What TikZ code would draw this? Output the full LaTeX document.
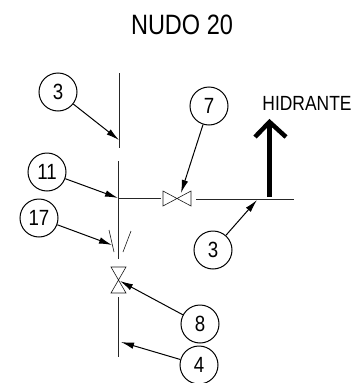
\documentclass[tikz,border=0pt]{standalone}
\usepackage{fontspec}
\setmainfont{Liberation Sans}
\usetikzlibrary{arrows.meta}
\tikzset{
  x=1pt,y=-1pt,
  pipe/.style={line width=1pt,draw=black!85},
  valve/.style={line width=.6pt,draw=black!90},
  callout/.style={circle,draw,line width=1pt,minimum size=38pt,inner sep=0pt,fill=none},
  digits/.style={font=\fontsize{22}{22}\selectfont},
  leader/.style={line width=1pt,-{Latex[length=13pt,width=6.5pt]}},
}
\newcommand{\nar}[1]{\scalebox{.85}[1]{#1}}
\begin{document}
\begin{tikzpicture}
\useasboundingbox (0,0) rectangle (353,383);
\node[font=\fontsize{28}{28}\selectfont] (title) at (182,25) {\scalebox{.84}[1]{NUDO 20}};
\node[font=\fontsize{20.5}{20.5}\selectfont] (hid) at (307,103) {\nar{HIDRANTE}};
% callouts
\node[callout,digits] (c3a) at (58,92) {\nar{3}};
\node[callout,digits] (c11) at (47,172) {\nar{11}};
\node[callout,digits] (c17) at (39,218) {\nar{17}};
\node[callout,digits] (c7) at (209,106) {\nar{7}};
\node[callout,digits] (c3b) at (213,250) {\nar{3}};
\node[callout,digits] (c8) at (200,324) {\nar{8}};
\node[callout,digits] (c4) at (199,365) {\nar{4}};
% pipe coordinates
\coordinate (a1) at (119,73); \coordinate (a2) at (119,148);
\coordinate (b1) at (118,161); \coordinate (b2) at (118,259);
\coordinate (j) at (118,198);
\coordinate (vl) at (163,198.5);
\coordinate (h1) at (196,199); \coordinate (h2) at (294,199);
\coordinate (d1) at (118,297); \coordinate (d2) at (118,357);
\coordinate (s1) at (109,230); \coordinate (s2) at (114,252);
\coordinate (s3) at (131,231); \coordinate (s4) at (123,252);
\coordinate (t3a) at (119,140); \coordinate (t11) at (118,198);
\coordinate (t17) at (112,245); \coordinate (t7) at (181,193);
\coordinate (t3b) at (257,200); \coordinate (t8) at (120,281);
\coordinate (t4) at (121,342);
\coordinate (hb) at (269,197); \coordinate (ht) at (269,123);
\coordinate (hl) at (255,137); \coordinate (hr) at (286,137); \coordinate (hp) at (269.5,122);
% pipes
\draw[pipe] (a1) -- (a2);
\draw[pipe] (b1) -- (b2);
\draw[pipe] (j) -- (161,198);
\draw[pipe] (h1) -- (h2);
\draw[pipe] (d1) -- (d2);
\draw[valve] (s1) -- (s2);
\draw[valve] (s3) -- (s4);
% valves
\draw[valve] (vl) -- ++(0,-7.5) -- ++(28,15) -- ++(0,-15) -- ++(-28,15) -- cycle;
\draw[valve] (111,267) -- (126,267) -- (111,293) -- (126,293) -- cycle;
% hydrant arrow
\draw[line width=5pt] (hb) -- (ht);
\draw[line width=4.5pt,miter limit=10] (hl) -- (hp) -- (hr);
% leaders
\draw[leader] (c3a) -- (t3a);
\draw[leader] (c11) -- (t11);
\draw[leader] (c17) -- (t17);
\draw[leader] (c7) -- (t7);
\draw[leader] (c3b) -- (t3b);
\draw[leader] (c8) -- (t8);
\draw[leader] (c4) -- (t4);
\end{tikzpicture}
\end{document}
